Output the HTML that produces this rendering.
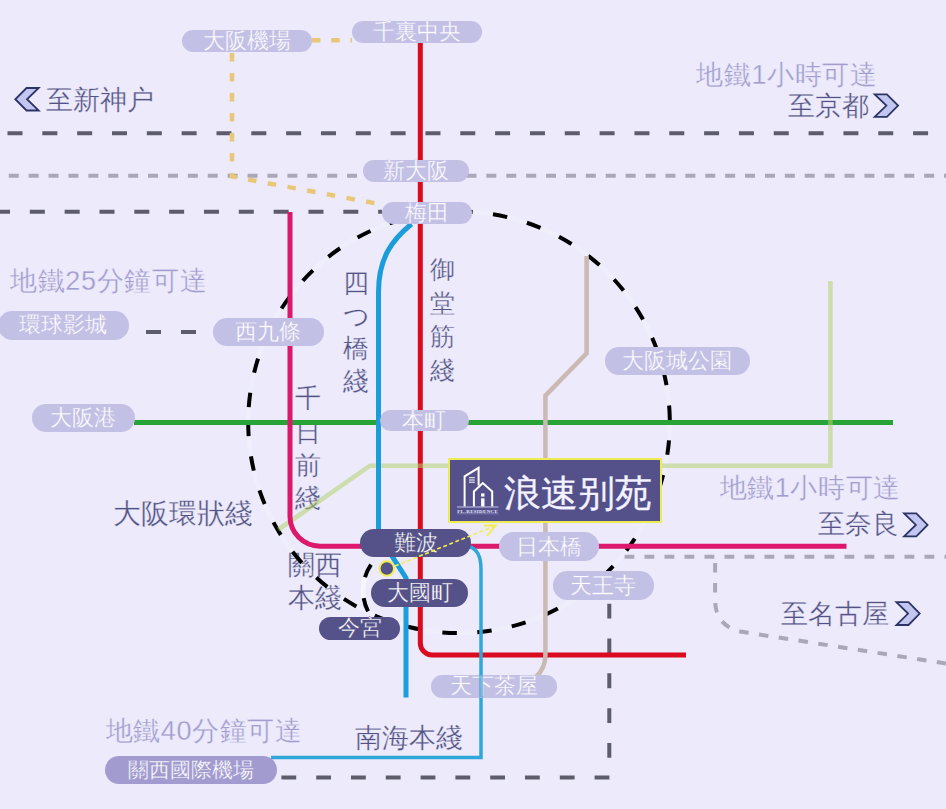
<!DOCTYPE html>
<html><head><meta charset="utf-8"><style>
html,body{margin:0;padding:0;}
body{width:946px;height:809px;position:relative;overflow:hidden;background:#eceafb;font-family:"Liberation Sans",sans-serif;}
svg{position:absolute;left:0;top:0;}
.p{position:absolute;display:flex;align-items:center;justify-content:center;color:#fff;font-size:22px;line-height:22px;white-space:nowrap;box-sizing:border-box;}
.p span{display:block;}
.t{position:absolute;white-space:nowrap;-webkit-text-stroke:0.3px #eceafb;}
</style></head><body>
<svg width="946" height="809">
<path d="M7.5,133.2 H946" fill="none" stroke="#5d5c6b" stroke-width="4" stroke-dasharray="15 19.83" stroke-dashoffset="0"/>
<path d="M8.75,175.8 H946" fill="none" stroke="#aaa8b8" stroke-width="4" stroke-dasharray="10 9.9" stroke-dashoffset="0"/>
<path d="M-5,211.7 H382" fill="none" stroke="#5d5c6b" stroke-width="4" stroke-dasharray="15 19.83" stroke-dashoffset="0"/>
<path d="M312,40.2 H352" fill="none" stroke="#e8c878" stroke-width="4.5" stroke-dasharray="8.5 10.75" stroke-dashoffset="0"/>
<path d="M232,52.9 V176.5 L382,204.5" fill="none" stroke="#e8c878" stroke-width="4.5" stroke-dasharray="8.5 11.5" stroke-dashoffset="0"/>
<path d="M609.3,603.75 V777.6" fill="none" stroke="#5d5c6b" stroke-width="4" stroke-dasharray="14.8 20" stroke-dashoffset="0"/>
<path d="M281.4,777.6 H611.2" fill="none" stroke="#5d5c6b" stroke-width="4" stroke-dasharray="14.8 20" stroke-dashoffset="0"/>
<path d="M146,332 H196" fill="none" stroke="#5d5c6b" stroke-width="4" stroke-dasharray="15 20" stroke-dashoffset="0"/>
<path d="M624.5,556.7 H946" fill="none" stroke="#aaa8b8" stroke-width="4" stroke-dasharray="9.8 10.2" stroke-dashoffset="0"/>
<path d="M715.1,557 V600 C715.1,618 725,628 740,631.5 L946,663.5" fill="none" stroke="#aaa8b8" stroke-width="4" stroke-dasharray="9.5 10.5" stroke-dashoffset="-6"/>
</svg>
<div class="t" style="left:45.5px;top:85.7px;font-size:27.2px;line-height:27.2px;color:#525284;letter-spacing:0px">至新神户</div>
<div class="t" style="left:696.3px;top:61.7px;font-size:27px;line-height:27px;color:#a29dce;letter-spacing:0.6px">地鐵1小時可達</div>
<div class="t" style="left:787.5px;top:92.5px;font-size:27px;line-height:27px;color:#525284;letter-spacing:0px">至京都</div>
<div class="t" style="left:10px;top:267.9px;font-size:27px;line-height:27px;color:#a29dce;letter-spacing:0.64px">地鐵25分鐘可達</div>
<div class="t" style="left:113.4px;top:500.4px;font-size:27.5px;line-height:27.5px;color:#525284;letter-spacing:0px">大阪環狀綫</div>
<div class="t" style="left:719.5px;top:475.2px;font-size:27px;line-height:27px;color:#a29dce;letter-spacing:0.65px">地鐵1小時可達</div>
<div class="t" style="left:817.8px;top:510.2px;font-size:27.2px;line-height:27.2px;color:#525284;letter-spacing:0px">至奈良</div>
<div class="t" style="left:781.4px;top:601.2px;font-size:27px;line-height:27px;color:#525284;letter-spacing:0px">至名古屋</div>
<div class="t" style="left:105.5px;top:717.9px;font-size:27px;line-height:27px;color:#a29dce;letter-spacing:0.64px">地鐵40分鐘可達</div>
<div class="t" style="left:354.7px;top:723.9px;font-size:27.3px;line-height:27.3px;color:#525284;letter-spacing:0px">南海本綫</div>
<div class="t" style="left:343.25px;top:270.6px;width:25.5px;text-align:center;font-size:25.5px;line-height:25.5px;color:#525284">四</div>
<div class="t" style="left:343.25px;top:303.5px;width:25.5px;text-align:center;font-size:25.5px;line-height:25.5px;color:#525284">つ</div>
<div class="t" style="left:343.25px;top:336.40000000000003px;width:25.5px;text-align:center;font-size:25.5px;line-height:25.5px;color:#525284">橋</div>
<div class="t" style="left:343.25px;top:369.3px;width:25.5px;text-align:center;font-size:25.5px;line-height:25.5px;color:#525284">綫</div>
<div class="t" style="left:429.5px;top:257.0px;width:25px;text-align:center;font-size:25px;line-height:25px;color:#525284">御</div>
<div class="t" style="left:429.5px;top:290.5px;width:25px;text-align:center;font-size:25px;line-height:25px;color:#525284">堂</div>
<div class="t" style="left:429.5px;top:324.0px;width:25px;text-align:center;font-size:25px;line-height:25px;color:#525284">筋</div>
<div class="t" style="left:429.5px;top:357.5px;width:25px;text-align:center;font-size:25px;line-height:25px;color:#525284">綫</div>
<div class="t" style="left:295.15px;top:386.4px;width:25.7px;text-align:center;font-size:25.7px;line-height:25.7px;color:#525284">千</div>
<div class="t" style="left:295.15px;top:419.59999999999997px;width:25.7px;text-align:center;font-size:25.7px;line-height:25.7px;color:#525284">日</div>
<div class="t" style="left:295.15px;top:452.79999999999995px;width:25.7px;text-align:center;font-size:25.7px;line-height:25.7px;color:#525284">前</div>
<div class="t" style="left:295.15px;top:486.0px;width:25.7px;text-align:center;font-size:25.7px;line-height:25.7px;color:#525284">綫</div>
<div class="t" style="left:288px;top:551.8px;font-size:26.5px;line-height:26.5px;color:#525284">關西</div>
<div class="t" style="left:288px;top:584.5px;font-size:26.5px;line-height:26.5px;color:#525284">本綫</div>
<svg width="946" height="809">
<path d="M248.20,422.3 A210.8,210.8 0 0 1 669.80,422.3 A210.8,210.8 0 0 1 248.20,422.3" fill="none" stroke="rgba(255,255,255,0.2)" stroke-width="5"/>
<path d="M248.20,422.3 A210.8,210.8 0 0 1 669.80,422.3 A210.8,210.8 0 0 1 248.20,422.3" fill="none" stroke="#000" stroke-width="4" stroke-dasharray="14.5 20.5" stroke-dashoffset="-15.16"/>
<path d="M371,564.6 A46,46 0 0 0 368.5,612.2" fill="none" stroke="rgba(255,255,255,0.5)" stroke-width="5"/>
<path d="M371,564.6 A46,46 0 0 0 368.5,612.2" fill="none" stroke="#000" stroke-width="4" stroke-dasharray="14 21"/>
</svg>
<svg width="946" height="809">
<path d="M420.3,43 V643 A12,12 0 0 0 432.3,655 H686" fill="none" stroke="#da0b1f" stroke-width="5"/>
<path d="M134,422.4 H893" fill="none" stroke="#27a338" stroke-width="5"/>
<path d="M586.6,256 V353.3 L545.4,395.6 V655 Q545.4,668 536,677" fill="none" stroke="#cbb9b3" stroke-width="4.5"/>
<path d="M278.5,529.5 L370,465.7 H830.4 V281" fill="none" stroke="#b4d26e" stroke-width="4.6" stroke-opacity="0.55"/>
<path d="M290,212 V516 A30,30 0 0 0 320,546.2 H846.5" fill="none" stroke="#dc186c" stroke-width="5"/>
<path d="M411.5,224 C392,240 378.5,258 378.5,292 V535 L406,578 V697.5" fill="none" stroke="#1b9ddb" stroke-width="5"/>
<path d="M468,546 C478,549 481,557 481,570 V757.6 H271" fill="none" stroke="#30a6d9" stroke-width="3.5"/>
</svg>
<div class="p" style="left:182px;top:30px;width:130.3px;height:22px;border-radius:11.0px;background:#c3c0e6;-webkit-text-stroke:0.3px #c3c0e6;"><span>大阪機場</span></div>
<div class="p" style="left:352px;top:21px;width:130px;height:22px;border-radius:11.0px;background:#c3c0e6;-webkit-text-stroke:0.3px #c3c0e6;"><span>千裏中央</span></div>
<div class="p" style="left:363px;top:160px;width:106px;height:22px;border-radius:11.0px;background:#c3c0e6;-webkit-text-stroke:0.3px #c3c0e6;"><span>新大阪</span></div>
<div class="p" style="left:382px;top:202.4px;width:90px;height:22.0px;border-radius:11.0px;background:#c3c0e6;-webkit-text-stroke:0.3px #c3c0e6;"><span>梅田</span></div>
<div class="p" style="left:379.8px;top:410px;width:89.19999999999999px;height:21.30000000000001px;border-radius:10.650000000000006px;background:#c3c0e6;-webkit-text-stroke:0.3px #c3c0e6;"><span>本町</span></div>
<div class="p" style="left:319px;top:616.6px;width:81.19999999999999px;height:23.199999999999932px;border-radius:11.599999999999966px;background:#545289;-webkit-text-stroke:0.3px #545289;"><span>今宮</span></div>
<div class="p" style="left:-2px;top:311px;width:130.8px;height:28.5px;border-radius:14.25px;background:#c3c0e6;-webkit-text-stroke:0.3px #c3c0e6;"><span>環球影城</span></div>
<div class="p" style="left:213px;top:317.5px;width:110.5px;height:28.5px;border-radius:14.25px;background:#c3c0e6;-webkit-text-stroke:0.3px #c3c0e6;"><span>西九條</span></div>
<div class="p" style="left:32px;top:403.8px;width:102.5px;height:28.19999999999999px;border-radius:14.099999999999994px;background:#c3c0e6;-webkit-text-stroke:0.3px #c3c0e6;"><span>大阪港</span></div>
<div class="p" style="left:360px;top:528.5px;width:111px;height:28.899999999999977px;border-radius:14.449999999999989px;background:#545289;-webkit-text-stroke:0.3px #545289;"><span>難波</span></div>
<div class="p" style="left:371px;top:578.8px;width:97px;height:28.200000000000045px;border-radius:14.100000000000023px;background:#545289;-webkit-text-stroke:0.3px #545289;"><span>大國町</span></div>
<div class="p" style="left:498.8px;top:532px;width:100.69999999999999px;height:29.299999999999955px;border-radius:14.649999999999977px;background:#c3c0e6;-webkit-text-stroke:0.3px #c3c0e6;"><span>日本橋</span></div>
<div class="p" style="left:553px;top:571.3px;width:100.79999999999995px;height:28.700000000000045px;border-radius:14.350000000000023px;background:#c3c0e6;-webkit-text-stroke:0.3px #c3c0e6;"><span>天王寺</span></div>
<div class="p" style="left:604.5px;top:346.5px;width:145.29999999999995px;height:28.80000000000001px;border-radius:14.400000000000006px;background:#c3c0e6;-webkit-text-stroke:0.3px #c3c0e6;"><span>大阪城公園</span></div>
<div class="p" style="left:104.5px;top:755.5px;width:172.5px;height:28.299999999999955px;border-radius:14.149999999999977px;background:#a19bd0;-webkit-text-stroke:0.3px #a19bd0;font-size:21.4px;"><span>關西國際機場</span></div>
<div class="p" style="left:431px;top:675px;width:126px;height:22.5px;border-radius:11.25px;background:#c3c0e6;-webkit-text-stroke:0.3px #c3c0e6;"><span>天下茶屋</span></div>
<div style="position:absolute;left:448.4px;top:458.1px;width:213.6px;height:65.4px;box-sizing:border-box;border:2.3px solid #eeec55;background:#53508a"></div>
<svg width="946" height="809" style="position:absolute;left:0;top:0">
<g fill="none" stroke="#fff" stroke-width="2">
<path d="M464.6,506.6 V476.4 L478.6,467.9 V485.5"/>
<path d="M473.9,506.6 V491.5 L482.8,483 L492.2,491.5 V506.6"/>
</g>
<g stroke="#fff" stroke-width="1">
<path d="M469,477.7 H474.8 M469,480 H474.8 M469,482.2 H474.8"/>
</g>
<rect x="481.1" y="493.4" width="3.4" height="3.2" fill="#fff"/>
<rect x="481.1" y="498.3" width="3.4" height="8.3" fill="#fff"/>
<path d="M457,507 H498.4" stroke="#c9c6ee" stroke-width="1.2"/>
<text x="477.7" y="512.6" font-size="5" font-family="Liberation Serif" font-weight="bold" fill="#e8e6ff" text-anchor="middle" letter-spacing="0.3">FL-RESIDENCE</text>
<path d="M457,513.8 H498.4" stroke="#8d8abf" stroke-width="0.8"/>
</svg>
<div class="t" style="left:503.7px;top:475.8px;font-size:36.5px;line-height:36.5px;color:#f4f3ff">浪速别苑</div>

<svg width="946" height="809">

<path d="M481,675 V697.5" stroke="#30a6d9" stroke-width="4" stroke-opacity="0.6"/>
<circle cx="386.8" cy="568.5" r="7.2" fill="#545289" stroke="#f2ee4a" stroke-width="2"/>
<path d="M395,566 L495.5,525.7" stroke="#f2ee4a" stroke-width="1.6" stroke-dasharray="4 2.5"/>
<path d="M484,525.5 L495.8,525.5 L487,535.9" fill="none" stroke="#f2ee4a" stroke-width="1.8"/>
<polygon points="38.7,88 26.53,88 15.3,99.25 26.53,110.5 38.7,110.5 27.00,99.25" fill="#c3c6f0" stroke="#2c3466" stroke-width="1.8" stroke-linejoin="miter"/>
<polygon points="874.7,94.3 886.87,94.3 898.1,105.55 886.87,116.8 874.7,116.8 886.40,105.55" fill="#c3c6f0" stroke="#2c3466" stroke-width="1.8" stroke-linejoin="miter"/>
<polygon points="904.1,513.4 916.32,513.4 927.6,524.9 916.32,536.4 904.1,536.4 915.85,524.9" fill="#c3c6f0" stroke="#2c3466" stroke-width="1.8" stroke-linejoin="miter"/>
<polygon points="896.4,602.1 908.52,602.1 919.7,613.55 908.52,625 896.4,625 908.05,613.55" fill="#c3c6f0" stroke="#2c3466" stroke-width="1.8" stroke-linejoin="miter"/>

</svg>
</body></html>
